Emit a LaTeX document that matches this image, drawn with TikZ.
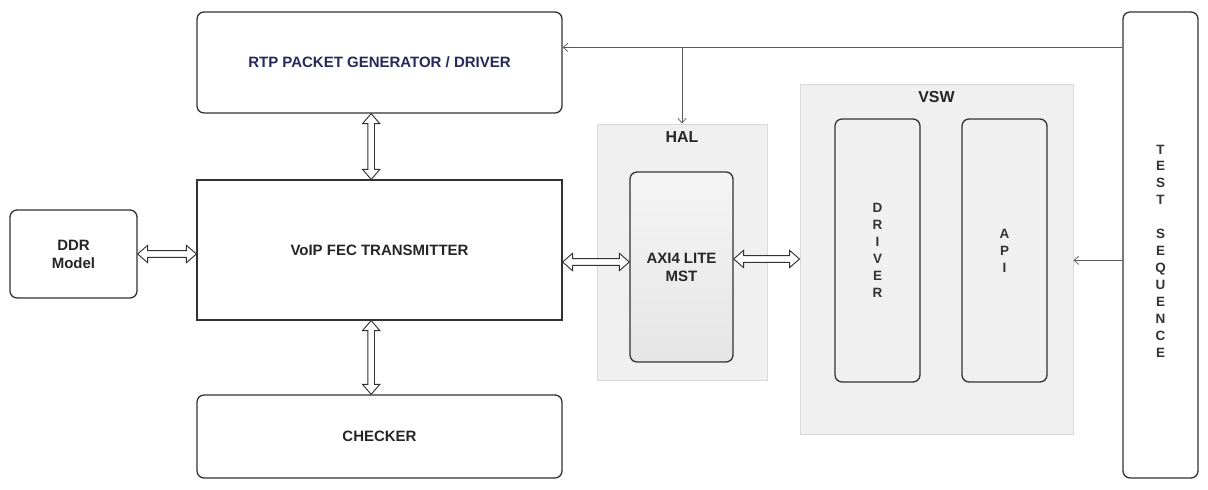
\documentclass[tikz,border=0pt]{standalone}
\usepackage{fontspec}
\setmainfont{Liberation Sans}
\usepackage{tikz}
\usetikzlibrary{arrows.meta, positioning, calc}
\definecolor{LineGray}{RGB}{50, 50, 50}
\definecolor{WireGray}{RGB}{90, 90, 90}
\definecolor{NavyText}{RGB}{40, 40, 90}
\definecolor{GroupFill}{RGB}{240, 240, 240}
\definecolor{GroupLine}{RGB}{218, 218, 218}

% hollow double arrow between two points
\newcommand{\hl}{0.3cm}
\newcommand{\hw}{0.26cm}
\newcommand{\sw}{0.1cm}
\newcommand{\dblarrow}[2]{%
  \coordinate (da) at #1; \coordinate (db) at #2;
  \draw[dbl] (da) -- ($(da)!\hl!(db)!\hw!90:(db)$) -- ($(da)!\hl!(db)!\sw!90:(db)$)
    -- ($(db)!\hl!(da)!\sw!-90:(da)$) -- ($(db)!\hl!(da)!\hw!-90:(da)$) -- (db)
    -- ($(db)!\hl!(da)!\hw!90:(da)$) -- ($(db)!\hl!(da)!\sw!90:(da)$)
    -- ($(da)!\hl!(db)!\sw!-90:(db)$) -- ($(da)!\hl!(db)!\hw!-90:(db)$) -- cycle;}

\begin{document}
\begin{tikzpicture}[
            >={Straight Barb[length=4pt, width=7pt]},
            box/.style={draw=LineGray, line width=1.1pt, fill=white, rounded corners=6pt, align=center, font=\fontsize{12.8}{15.5}\selectfont\bfseries, text=black!85},
            plainbox/.style={box, rounded corners=0pt, line width=1pt},
            group/.style={draw=GroupLine, line width=0.8pt, fill=GroupFill},
            grouplabel/.style={font=\fontsize{13.6}{15}\selectfont\bfseries, text=black!85},
            stack/.style={align=center, font=\fontsize{11.5}{14.5}\selectfont\bfseries, text=black!80},
            column/.style={box, stack, fill=GroupFill, minimum width=2.55cm, minimum height=7.89cm},
            wire/.style={->, draw=WireGray, line width=0.6pt},
            dbl/.style={draw=LineGray, line width=0.8pt, fill=white, line join=miter}
        ]
        \useasboundingbox (0,0) rectangle (36.24,-14.7);

        % --- BLOKI PO LEWEJ ---
        \node[box, minimum width=10.95cm, minimum height=3.03cm, text=NavyText] (rtp) at (11.385, -1.875) {RTP PACKET GENERATOR / DRIVER};
        \node[plainbox, minimum width=10.95cm, minimum height=4.2cm] (voip) at (11.385, -7.5) {VoIP FEC TRANSMITTER};
        \node[box, minimum width=10.95cm, minimum height=2.49cm] (checker) at (11.385, -13.095) {CHECKER};
        \node[box, minimum width=3.81cm, minimum height=2.64cm] (ddr) at (2.205, -7.62) {DDR\\Model};

        % --- HAL ---
        \node[group, minimum width=5.1cm, minimum height=7.68cm] (hal) at (20.46, -7.56) {};
        \node[grouplabel] (hallabel) at (20.46, -4.11) {HAL};
        \node[box, top color=white!96!black, bottom color=white!90!black, minimum width=3.09cm, minimum height=5.7cm] (axi) at (20.445, -8.01) {AXI4 LITE\\MST};

        % --- VSW ---
        \node[group, minimum width=8.19cm, minimum height=10.5cm] (vsw) at (28.095, -7.77) {};
        \node[grouplabel] (vswlabel) at (28.095, -2.91) {VSW};
        \node[column] (driver) at (26.325, -7.515) {D\\R\\I\\V\\E\\R};
        \node[column] (api) at (30.135, -7.515) {A\\P\\I};

        % --- TEST SEQUENCE ---
        \node[box, minimum width=2.25cm, minimum height=13.98cm] (test) at (34.815, -7.35) {};
        \node[stack] (testtxt) at (34.815, -7.53) {T\\E\\S\\T\\[14pt]S\\E\\Q\\U\\E\\N\\C\\E};

        % --- POLACZENIA ---
        \dblarrow{([xshift=-0.25cm]rtp.south)}{([xshift=-0.25cm]voip.north)}
        \dblarrow{([xshift=-0.25cm]voip.south)}{([xshift=-0.25cm]checker.north)}
        \dblarrow{(ddr.east)}{(ddr.east -| voip.west)}
        \dblarrow{([yshift=0.15cm]axi.west -| voip.east)}{([yshift=0.15cm]axi.west)}
        \dblarrow{([yshift=0.24cm]axi.east)}{([yshift=0.24cm]axi.east -| vsw.west)}

        \coordinate (t1) at ($(test.north west)+(0,-1.08)$);
        \coordinate (br) at (t1 -| hal.north);
        \draw[wire] (t1) -- (t1 -| rtp.east);
        \draw[wire] (br) -- (hal.north);
        \coordinate (t2) at ($(test.north west)+(0,-7.47)$);
        \draw[wire] (t2) -- (t2 -| vsw.east);

        \end{tikzpicture}
\end{document}
